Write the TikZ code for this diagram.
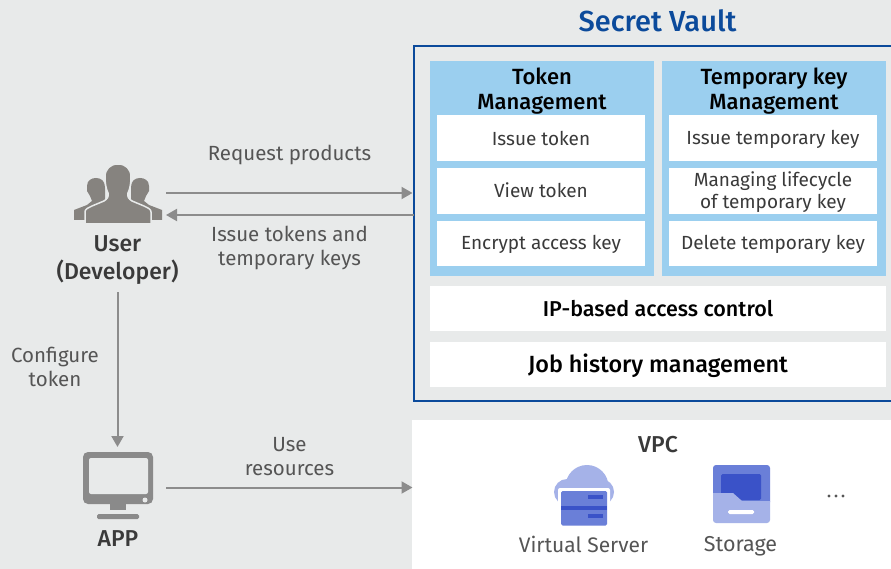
\documentclass[tikz,border=0pt]{standalone}
\usepackage{fontspec}
\setmainfont{Fira Sans}
\newfontfamily\medf{Fira Sans Medium}
\usetikzlibrary{arrows.meta}
\definecolor{bgc}{HTML}{E8EAEA}
\definecolor{vault}{HTML}{0B4A9B}
\definecolor{panel}{HTML}{9BCFEF}
\definecolor{txt}{HTML}{3A3A3A}
\definecolor{lbl}{HTML}{555555}
\definecolor{arrowc}{HTML}{8C8C8C}
\definecolor{iconc}{HTML}{86837F}
\definecolor{iconb}{HTML}{8A8A8A}
\definecolor{vl}{HTML}{A5B2E8}
\definecolor{vm}{HTML}{6A7FD8}
\definecolor{vd}{HTML}{3A52C8}
\tikzset{x=1pt,y=-1pt,
  panelbox/.style={fill=panel,draw=none,minimum width=224pt,minimum height=215pt,inner sep=0pt},
  whitebox/.style={fill=white,draw=none,minimum width=208pt,minimum height=46pt,inner sep=0pt,text=txt,font=\fontsize{19}{21.5}\selectfont,align=center},
  barbox/.style={fill=white,draw=none,minimum width=456pt,minimum height=45pt,inner sep=0pt},
  bartext/.style={inner sep=0pt,text=black,font=\medf\fontsize{21.5}{24}\selectfont},
  head/.style={align=center,text=black,inner sep=0pt,font=\medf\fontsize{22}{25}\selectfont},
  lab/.style={align=center,text=lbl,inner sep=0pt,font=\fontsize{20.5}{24}\selectfont},
  actor/.style={align=center,text=txt,inner sep=0pt,font=\medf\fontsize{23}{28}\selectfont},
  flow/.style={draw=arrowc,line width=2pt,-{Triangle[length=11pt,width=12pt]}},
}
\begin{document}
\begin{tikzpicture}
\useasboundingbox (0,0) rectangle (891,569);
\fill[bgc] (0,0) rectangle (891,569);
% VPC
\fill[white] (412,420) rectangle (891,569);
% Vault
\node[text=vault,inner sep=0pt,font=\medf\fontsize{29}{32}\selectfont] (title) at (657.5,20.5) {Secret Vault};
\draw[vault,line width=2pt] (895,46.5) -- (414,46.5) -- (414,401) -- (895,401);
\coordinate (vaulttop) at (412.5,193);
\coordinate (vaultbot) at (414,215);
\coordinate (vpcin) at (412.5,487.5);
\node[panelbox] (p1) at (542,168.5) {};
\node[panelbox] (p2) at (774,168.5) {};
\node[head] (h1) at (542,91) {Token\\Management};
\node[head] (h2) at (774,91) {Temporary key\\Management};
\node[whitebox] (a1) at (541,138) {};
\node[whitebox] (a2) at (541,191) {};
\node[whitebox,minimum height=45pt] (a3) at (541,243.5) {};
\node[whitebox] (b1) at (773,138) {};
\node[whitebox] (b2) at (773,191) {};
\node[whitebox,minimum height=45pt] (b3) at (773,243.5) {};
\node[whitebox,fill=none] (a1t) at (541,138.5) {Issue token};
\node[whitebox,fill=none] (a2t) at (541,190) {View token};
\node[whitebox,fill=none] (a3t) at (541,244) {Encrypt access key};
\node[whitebox,fill=none] (b1t) at (773,139) {Issue temporary key};
\node[whitebox,fill=none,font=\fontsize{19}{22}\selectfont] (b2t) at (773,192) {Managing lifecycle\\of temporary key};
\node[whitebox,fill=none] (b3t) at (773,244) {Delete temporary key};
\node[barbox] (c1) at (658,308.5) {};
\node[barbox] (c2) at (658,364.5) {};
\node[bartext] (c1t) at (658,308.5) {IP-based access control};
\node[bartext,font=\medf\fontsize{23.4}{28}\selectfont] (c2t) at (658,365.5) {Job history management};
% User icon
\begin{scope}[shift={(74,165)}]
\fill[iconc] (0,55) -- (0,45) -- (13,40) -- (18,36) -- (16,31) -- (13,26) -- (13,21) .. controls (13,15) and (18,13) .. (22,13) .. controls (27,13) and (31,16) .. (31,22) -- (31,40) -- (12,55) -- cycle;
\fill[iconc] (88,55) -- (88,45) -- (75,40) -- (70,36) -- (72,31) -- (75,26) -- (75,21) .. controls (75,15) and (70,13) .. (66,13) .. controls (61,13) and (57,16) .. (57,22) -- (57,40) -- (76,55) -- cycle;
\draw[bgc,line width=1.5pt,fill=iconc] (11,59) -- (11,47) .. controls (11,44) and (14,43) .. (18,41) -- (30,36) .. controls (33,34) and (35,32) .. (34,28) .. controls (32,24) and (31,18) .. (31,12) .. controls (31,4) and (36,-1) .. (44,-1) .. controls (52,-1) and (57,4) .. (57,12) .. controls (57,18) and (56,24) .. (54,28) .. controls (53,32) and (55,34) .. (58,36) -- (70,41) .. controls (74,43) and (77,44) .. (77,47) -- (77,59) -- cycle;
\end{scope}
\coordinate (userR1) at (166,193);
\coordinate (userR2) at (166,215);
\node[actor] (user) at (117.5,260.5) {User\\(Developer)};
% App icon
\begin{scope}[shift={(83,452)}]
\fill[iconb,rounded corners=5pt] (0,0) rectangle (70,52);
\fill[bgc,rounded corners=2pt] (6,6) rectangle (65,42);
\fill[bgc] (62,48) circle (2.5);
\fill[iconb] (27,52) rectangle (43,58);
\fill[iconb,rounded corners=1.5pt] (14,62) rectangle (56,67);
\end{scope}
\coordinate (appT) at (117.5,447);
\coordinate (appR) at (166,487.5);
\coordinate (userB) at (117.5,292);
\node[actor] (app) at (118,539) {APP};
% connectors
\draw[flow] (userR1) -- (vaulttop);
\draw[flow] (vaultbot) -- (userR2);
\draw[flow] (userB) -- (appT);
\draw[flow] (appR) -- (vpcin);
\node[lab] (l1) at (289.5,154.5) {Request products};
\node[lab] (l2) at (289.5,247.5) {Issue tokens and\\temporary keys};
\node[lab] (l3) at (55,367) {Configure\\token};
\node[lab] (l4) at (289.5,457) {Use\\resources};
% VPC content
\node[actor] (vpc) at (658,445) {VPC};
\begin{scope}[shift={(553,465)}]
\fill[vl] (34,21.5) circle (21.5);
\fill[vl] (14,27) circle (13);
\fill[vl] (48,27) circle (13);
\fill[white,rounded corners=2pt] (5,23) rectangle (57,62);
\fill[vm,rounded corners=1.5pt] (8,26) rectangle (54,60.5);
\fill[vd] (8,41) rectangle (54,45);
\fill[vd] (35,30) rectangle (50,34);
\fill[vd] (35,49) rectangle (50,53);
\end{scope}
\begin{scope}[shift={(713,465)}]
\fill[vm,rounded corners=3pt] (0,0) rectangle (57,40);
\fill[vd,rounded corners=1.5pt] (8,9) rectangle (48,35);
\fill[vl] (0,28) -- (20,28) -- (29,36) -- (57,36) -- (57,55) arc (0:90:3) -- (3,58) arc (90:180:3) -- cycle;
\fill[white,rounded corners=1.5pt] (15,45) rectangle (41,49);
\end{scope}
\fill[lbl] (829,496) circle (1.6) (836,496) circle (1.6) (843,496) circle (1.6);
\node[lab,font=\fontsize{21}{24}\selectfont] (vs) at (583.5,544) {Virtual Server};
\node[lab,font=\fontsize{21.5}{24}\selectfont] (st) at (740.5,546) {Storage};
\end{tikzpicture}
\end{document}
